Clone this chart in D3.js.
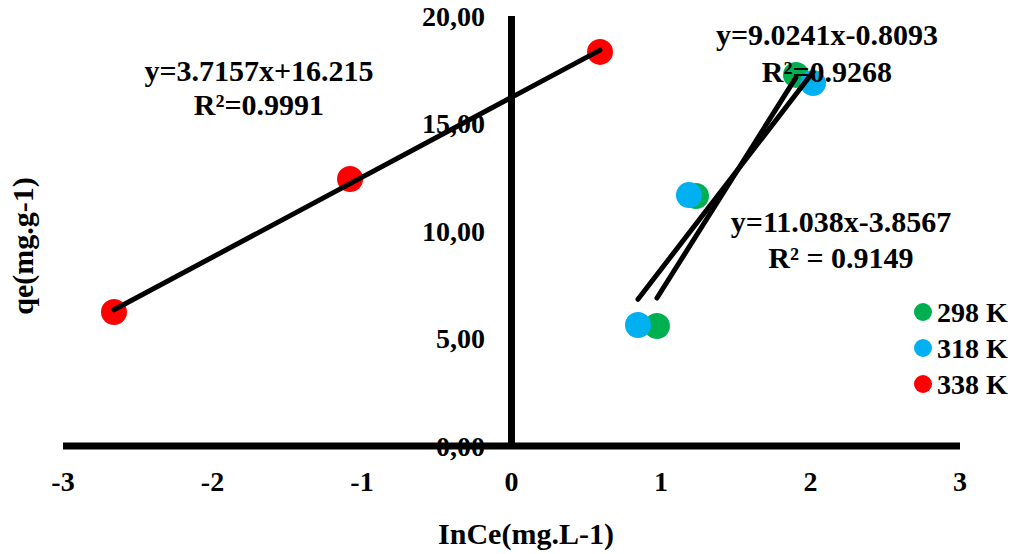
<!DOCTYPE html>
<html>
<head>
<meta charset="utf-8">
<script src="https://cdn.jsdelivr.net/npm/d3@7"></script>
<style>
  html, body { margin: 0; padding: 0; background: #fff; }
  svg { display: block; }
  text { font-family: "Liberation Serif", "Times New Roman", serif; font-weight: bold; fill: #000; }
</style>
</head>
<body>
<svg id="chart" width="1019" height="554"></svg>
<script>
// ---- data ----
const seriesNames = ["298 K", "318 K", "338 K"];
const seriesColors = ["#00B050", "#00B0F0", "#FF0000"];
const x298 = [0.973, 1.234, 1.903];
const y298 = [5.58, 11.63, 17.26];
const x318 = [0.846, 1.187, 2.017];
const y318 = [5.63, 11.67, 16.88];
const x338 = [-2.659, -1.080, 0.592];
const y338 = [6.23, 12.42, 18.33];
const slopes = [11.038, 9.0241, 3.7157];
const intercepts = [-3.8567, -0.8093, 16.215];
const eqLabels = ["y=11.038x-3.8567", "y=9.0241x-0.8093", "y=3.7157x+16.215"];
const r2Labels = ["R² = 0.9149", "R²=0.9268", "R²=0.9991"];
const xTicks = [-3, -2, -1, 0, 1, 2, 3];
const yTicks = [0, 5, 10, 15, 20];
const xTitle = "InCe(mg.L-1)";
const yTitle = "qe(mg.g-1)";

const xs = [x298, x318, x338];
const ys = [y298, y318, y338];

const svg = d3.select("#chart");
const x = d3.scaleLinear().domain([-3, 3]).range([63, 960]);
const y = d3.scaleLinear().domain([0, 20]).range([446, 16]);
const fmt = d3.formatLocale({decimal: ",", thousands: ".", grouping: [3], currency: ["", ""]}).format(".2f");

// y tick labels (behind axis lines)
svg.append("g").selectAll("text").data(yTicks).join("text")
  .attr("x", 485).attr("y", d => y(d)).attr("dy", "0.35em")
  .attr("text-anchor", "end").attr("font-size", 28)
  .text(d => fmt(d));

// x tick labels
svg.append("g").selectAll("text").data(xTicks).join("text")
  .attr("x", d => x(d)).attr("y", 491)
  .attr("text-anchor", "middle").attr("font-size", 28)
  .text(d => d);

// axis lines
svg.append("line").attr("x1", x(-3)).attr("x2", x(3)).attr("y1", y(0)).attr("y2", y(0))
  .attr("stroke", "#000").attr("stroke-width", 7);
svg.append("line").attr("x1", x(0)).attr("x2", x(0)).attr("y1", y(20)).attr("y2", y(0))
  .attr("stroke", "#000").attr("stroke-width", 7);

// points
seriesNames.forEach((name, i) => {
  const pts = xs[i].map((xv, j) => [xv, ys[i][j]]);
  svg.append("g").selectAll("circle").data(pts).join("circle")
    .attr("cx", d => x(d[0])).attr("cy", d => y(d[1])).attr("r", 13)
    .attr("fill", seriesColors[i]);
});

// trend lines
seriesNames.forEach((name, i) => {
  const [x0, x1] = d3.extent(xs[i]);
  svg.append("line")
    .attr("x1", x(x0)).attr("y1", y(slopes[i] * x0 + intercepts[i]))
    .attr("x2", x(x1)).attr("y2", y(slopes[i] * x1 + intercepts[i]))
    .attr("stroke", "#000").attr("stroke-width", 5).attr("stroke-linecap", "round");
});

// equation labels
const eqPos = [[841, 232, 268], [827, 45, 82], [259, 81, 115]];
eqPos.forEach((p, i) => {
  svg.append("text").attr("x", p[0]).attr("y", p[1]).attr("text-anchor", "middle")
    .attr("font-size", 30).text(eqLabels[i]);
  svg.append("text").attr("x", p[0]).attr("y", p[2]).attr("text-anchor", "middle")
    .attr("font-size", 30).text(r2Labels[i]);
});

// legend
const legendY = [312, 348, 384];
seriesNames.forEach((name, i) => {
  svg.append("circle").attr("cx", 923).attr("cy", legendY[i]).attr("r", 9).attr("fill", seriesColors[i]);
  svg.append("text").attr("x", 937).attr("y", legendY[i]).attr("dy", "0.35em")
    .attr("font-size", 28).text(name);
});

// axis titles
svg.append("text").attr("x", 526).attr("y", 544).attr("text-anchor", "middle")
  .attr("font-size", 30).text(xTitle);
svg.append("text").attr("transform", "translate(33,246) rotate(-90)")
  .attr("text-anchor", "middle").attr("font-size", 30).text(yTitle);
</script>
</body>
</html>
